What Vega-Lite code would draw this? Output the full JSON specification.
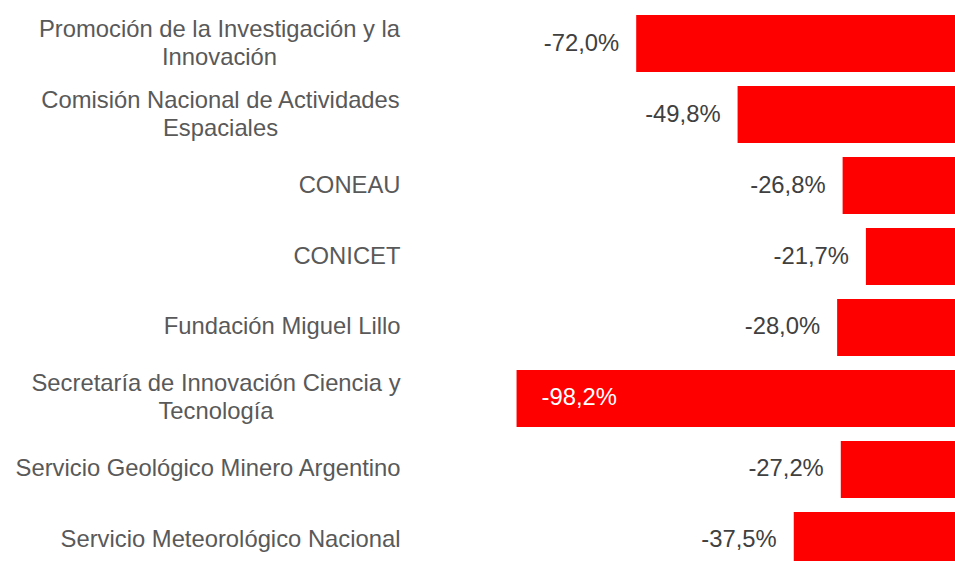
{
  "$schema": "https://vega.github.io/schema/vega-lite/v6.json",
  "autosize": "none",
  "width": 538,
  "height": 561,
  "padding": {"left": 417, "top": 0, "right": 0, "bottom": 0},
  "background": "white",
  "config": {
    "view": {"stroke": null},
    "font": "Liberation Sans",
    "locale": {"number": {"decimal": ",", "thousands": ".", "grouping": [3], "currency": ["$", ""], "minus": "-"}}
  },
  "data": {
    "values": [
      {"name": "Promoción de la Investigación y la\nInnovación", "value": -0.720},
      {"name": "Comisión Nacional de Actividades\nEspaciales", "value": -0.498},
      {"name": "CONEAU", "value": -0.268},
      {"name": "CONICET", "value": -0.217},
      {"name": "Fundación Miguel Lillo", "value": -0.280},
      {"name": "Secretaría de Innovación Ciencia y\nTecnología", "value": -0.982},
      {"name": "Servicio Geológico Minero Argentino", "value": -0.272},
      {"name": "Servicio Meteorológico Nacional", "value": -0.375}
    ]
  },
  "encoding": {
    "y": {
      "field": "name",
      "type": "nominal",
      "sort": null,
      "scale": {"range": [15, 569], "paddingInner": 0.197, "paddingOuter": 0},
      "axis": {
        "title": null,
        "domain": false,
        "ticks": false,
        "tickSize": 0,
        "labelFont": "Liberation Sans",
        "labelFontSize": 23.8,
        "labelColor": "#595959",
        "labelLimit": 500,
        "labelLineHeight": 28,
        "labelBaseline": "middle",
        "labelExpr": "split(datum.label, '\\n')",
        "labelAlign": {"condition": {"test": "indexof(datum.value, '\\n') >= 0", "value": "center"}, "value": "right"},
        "labelOffset": {"condition": {"test": "indexof(datum.value, '\\n') >= 0", "value": -14}, "value": 0},
        "labelPadding": {
          "condition": [
            {"test": "indexof(datum.value, 'Promoción') >= 0", "value": 198},
            {"test": "indexof(datum.value, 'Comisión') >= 0", "value": 197},
            {"test": "indexof(datum.value, 'Secretaría') >= 0", "value": 201.5}
          ],
          "value": 17
        }
      }
    },
    "x": {
      "field": "value",
      "type": "quantitative",
      "scale": {"domain": [-1.2, 0], "range": [0, 548], "nice": false, "zero": false},
      "axis": null
    }
  },
  "layer": [
    {
      "mark": {"type": "bar", "color": "#FF0000", "clip": true},
      "encoding": {"x2": {"datum": 0}}
    },
    {
      "transform": [{"filter": "datum.value > -0.9"}],
      "mark": {"type": "text", "align": "right", "baseline": "middle", "dx": -17, "fontSize": 23.8, "color": "#404040", "font": "Liberation Sans"},
      "encoding": {"text": {"field": "value", "type": "quantitative", "format": ".1%"}}
    },
    {
      "transform": [{"filter": "datum.value <= -0.9"}],
      "mark": {"type": "text", "align": "left", "baseline": "middle", "dx": 25, "fontSize": 23.8, "color": "#FFFFFF", "font": "Liberation Sans"},
      "encoding": {"text": {"field": "value", "type": "quantitative", "format": ".1%"}}
    }
  ]
}
